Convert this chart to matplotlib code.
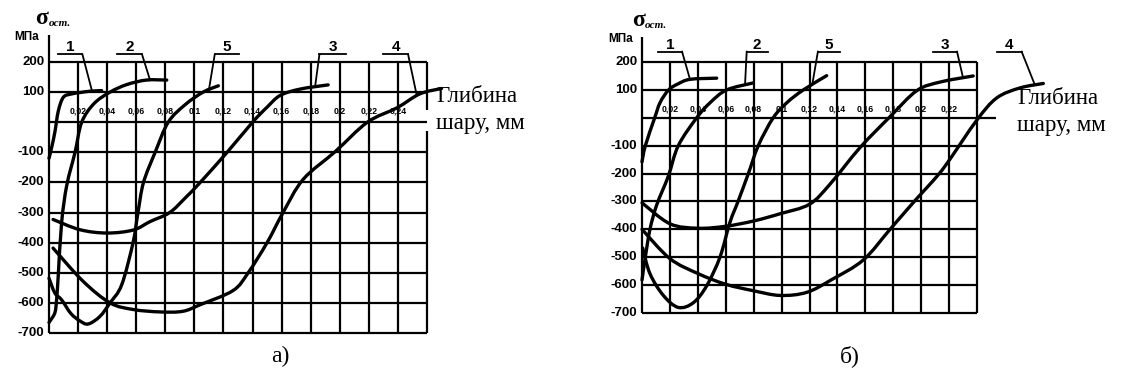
import numpy as np
import matplotlib.pyplot as plt
from matplotlib.path import Path
from matplotlib.patches import PathPatch

plt.rcParams['font.family'] = ['Liberation Sans', 'DejaVu Sans']

# ---------------- data: panel а) ----------------
a_x_ticks = [0.02, 0.04, 0.06, 0.08, 0.10, 0.12, 0.14, 0.16, 0.18, 0.20, 0.22, 0.24]
a_x_labels = ['0,02', '0,04', '0,06', '0,08', '0,1', '0,12', '0,14', '0,16', '0,18', '0,2', '0,22', '0,24']
a_x_max = 0.26

a1_x = [0.0, 0.0020, 0.0041, 0.0064, 0.0099, 0.0156, 0.0220, 0.0282, 0.0362]
a1_y = [-120, -80, -31, 37, 83, 94, 99, 103, 105]

a2_x = [0.0, 0.0007, 0.0041, 0.0053, 0.0064, 0.0087, 0.0122, 0.0179, 0.0225, 0.0310, 0.0420, 0.0535, 0.0670, 0.0810]
a2_y = [-665, -660, -632, -585, -506, -332, -210, -100, 0, 62, 100, 125, 140, 140]

a3_x = [0.0028, 0.0213, 0.0400, 0.0580, 0.0695, 0.0830, 0.0940, 0.1040, 0.1225, 0.1400, 0.1500, 0.1590, 0.1727, 0.1920]
a3_y = [-323, -357, -368, -358, -330, -300, -250, -200, -100, 0, 50, 89, 110, 124]

a4_x = [0.0028, 0.0234, 0.0420, 0.0580, 0.0764, 0.0920, 0.1040, 0.1266, 0.1370, 0.1500, 0.1610,
        0.1748, 0.1970, 0.2190, 0.2394, 0.2550, 0.2700]
a4_y = [-418, -528, -600, -622, -630, -628, -606, -559, -500, -400, -300,
        -190, -97, 0, 48, 94, 112]

a5_x = [0.0, 0.0040, 0.0087, 0.0150, 0.0213, 0.0270, 0.0350, 0.0420, 0.0500, 0.0578, 0.0612,
        0.0650, 0.0730, 0.0820, 0.0936, 0.1060, 0.1165]
a5_y = [-518, -567, -590, -635, -660, -670, -645, -600, -540, -400, -300,
        -200, -100, 0, 58, 100, 121]

# ---------------- data: panel б) ----------------
b_x_ticks = [0.02, 0.04, 0.06, 0.08, 0.10, 0.12, 0.14, 0.16, 0.18, 0.20, 0.22]
b_x_labels = ['0,02', '0,04', '0,06', '0,08', '0,1', '0,12', '0,14', '0,16', '0,18', '0,2', '0,22']
b_x_max = 0.24

b1_x = [0.0, 0.0024, 0.0091, 0.0130, 0.0191, 0.0260, 0.0346, 0.0535]
b1_y = [-158, -100, 0, 55, 100, 122, 138, 142]

b2_x = [0.0, 0.0024, 0.0057, 0.0105, 0.0188, 0.0260, 0.0392, 0.0490, 0.0607, 0.0797]
b2_y = [-582, -499, -400, -313, -210, -100, 0, 55, 100, 125]

b3_x = [0.0, 0.0200, 0.0400, 0.0600, 0.0800, 0.0990, 0.1200, 0.1347, 0.1560, 0.1777, 0.1968, 0.2135, 0.2373]
b3_y = [-305, -380, -396, -389, -370, -344, -310, -238, -108, 4, 97, 128, 150]

b4_x = [0.0, 0.0200, 0.0403, 0.0600, 0.0797, 0.0989, 0.1180, 0.1360, 0.1585, 0.1777, 0.1968,
        0.2087, 0.2183, 0.2398, 0.2541, 0.2708, 0.2875]
b4_y = [-400, -505, -559, -597, -620, -637, -626, -580, -510, -400, -290,
        -225, -165, -9, 71, 107, 123]

b5_x = [0.0005, 0.0057, 0.0153, 0.0260, 0.0368, 0.0464, 0.0559, 0.0630, 0.0688, 0.0762,
        0.0833, 0.0940, 0.1040, 0.1156, 0.1323]
b5_y = [-467, -559, -637, -680, -663, -602, -499, -375, -300, -200,
        -100, 0, 55, 100, 151]

y_ticks = [200, 100, 0, -100, -200, -300, -400, -500, -600, -700]
y_labels = ['200', '100', '', '-100', '-200', '-300', '-400', '-500', '-600', '-700']

W, H = 1121, 377
fig = plt.figure(figsize=(W / 100, H / 100), dpi=100)

GRID_LW = 1.6
CURVE_LW = 2.4


def px(x, y):
    return x / W, 1 - y / H


def smooth_path(xs, ys):
    """Cubic Bezier path running through every point (Catmull-Rom tangents)."""
    p = np.column_stack([xs, ys]).astype(float)
    verts = [p[0]]
    codes = [Path.MOVETO]
    n = len(p)
    for i in range(n - 1):
        p0 = p[i - 1] if i > 0 else p[i]
        p3 = p[i + 2] if i + 2 < n else p[i + 1]
        c1 = p[i] + (p[i + 1] - p0) / 6.0
        c2 = p[i + 1] - (p3 - p[i]) / 6.0
        verts += [c1, c2, p[i + 1]]
        codes += [Path.CURVE4] * 3
    return Path(verts, codes)


def make_panel(rect, xmax, xt, xl, xl_y, curves, leaders, label_y, uline_y, right_gap=None):
    ax = fig.add_axes(rect)
    ax.set_xlim(0, xmax)
    ax.set_ylim(-700, 200)
    ax.axis('off')
    kw = dict(color='black', lw=GRID_LW, solid_capstyle='butt', clip_on=False)
    # grid
    for xv in xt:
        ax.plot([xv, xv], [-700, 200], **kw)
    if right_gap is None:
        ax.plot([xmax, xmax], [-700, 200], **kw)
    else:
        ax.plot([xmax, xmax], [right_gap[0], 200], **kw)
        ax.plot([xmax, xmax], [-700, right_gap[1]], **kw)
    for yv in y_ticks:
        ax.plot([0, xmax], [yv, yv], **kw)
    # left axis, extending above the grid
    ax.plot([0, 0], [-700, 290], **kw)
    # depth tick labels
    for xv, s in zip(xt, xl):
        ax.text(xv, xl_y, s, fontsize=6.3, fontweight='bold', ha='center', va='center')
    # stress tick labels
    for yv, s in zip(y_ticks, y_labels):
        if s:
            ax.annotate(s, (0, yv), xytext=(-3.5, 0), textcoords='offset points',
                        fontsize=9.5, fontweight='bold', ha='right', va='center')
    # curves
    for cx, cy in curves:
        ax.add_patch(PathPatch(smooth_path(cx, cy), fill=False, edgecolor='black',
                               lw=CURVE_LW, capstyle='round', joinstyle='round',
                               clip_on=False))
    # numbered leaders
    for name, (u0, u1), start, target, idx in leaders:
        cx, cy = curves[idx]
        ty = float(np.interp(target, cx, cy))
        ax.plot([u0, u1], [uline_y, uline_y], color='black', lw=1.3, clip_on=False)
        sx = u0 if start == 'left' else u1
        ax.plot([sx, target], [uline_y, ty], color='black', lw=1.3, clip_on=False)
        ax.text((u0 + u1) / 2, label_y, name, fontsize=11, fontweight='bold',
                ha='center', va='center')
    return ax


ax_a = make_panel(
    [49 / W, 44 / H, 378 / W, 271 / H], a_x_max, a_x_ticks, a_x_labels, 38,
    [(a1_x, a1_y), (a2_x, a2_y), (a3_x, a3_y), (a4_x, a4_y), (a5_x, a5_y)],
    [('1', (0.006, 0.023), 'right', 0.0296, 0),
     ('2', (0.047, 0.064), 'right', 0.0695, 1),
     ('5', (0.114, 0.131), 'left', 0.110, 4),
     ('3', (0.186, 0.204), 'left', 0.183, 2),
     ('4', (0.230, 0.247), 'right', 0.253, 3)],
    250, 225, right_gap=(40, -30))

ax_b = make_panel(
    [642 / W, 64 / H, 335 / W, 251 / H], b_x_max, b_x_ticks, b_x_labels, 30,
    [(b1_x, b1_y), (b2_x, b2_y), (b3_x, b3_y), (b4_x, b4_y), (b5_x, b5_y)],
    [('1', (0.0115, 0.0287), 'right', 0.0344, 0),
     ('2', (0.075, 0.090), 'left', 0.0738, 1),
     ('5', (0.126, 0.142), 'left', 0.122, 4),
     ('3', (0.2085, 0.2257), 'right', 0.230, 2),
     ('4', (0.254, 0.272), 'right', 0.2815, 3)],
    262, 237)
# zero line runs past the frame in panel б)
ax_b.plot([0.24, 0.2536], [0, 0], color='black', lw=GRID_LW, solid_capstyle='butt', clip_on=False)

serif = ['Liberation Serif', 'DejaVu Serif']

# axis captions
for (sx, sy), (ox, oy), (mx, my) in [((42, 19), (49, 23), (27, 37)),
                                     ((639, 21), (645, 25), (621, 39))]:
    fig.text(*px(sx, sy), 'σ', fontsize=17, fontweight='bold', family=serif,
             ha='center', va='center')
    fig.text(*px(ox, oy), 'ост.', fontsize=8, fontweight='bold', style='italic',
             family=serif, ha='left', va='center')
    fig.text(*px(mx, my), 'МПа', fontsize=8.5, fontweight='bold', ha='center', va='center')

for (gx, gy), (sx, sy) in [((436, 97), (436, 124)), ((1017, 99), (1017, 125))]:
    fig.text(*px(gx, gy), 'Глибина', fontsize=16.5, family=serif, ha='left', va='center')
    fig.text(*px(sx, sy), 'шару, мм', fontsize=16.5, family=serif, ha='left', va='center')

fig.text(*px(280, 356), 'а)', fontsize=17, family=serif, ha='center', va='center')
fig.text(*px(850, 356), 'б)', fontsize=17, family=serif, ha='center', va='center')

fig.savefig('out.png', dpi=100, facecolor='white')
